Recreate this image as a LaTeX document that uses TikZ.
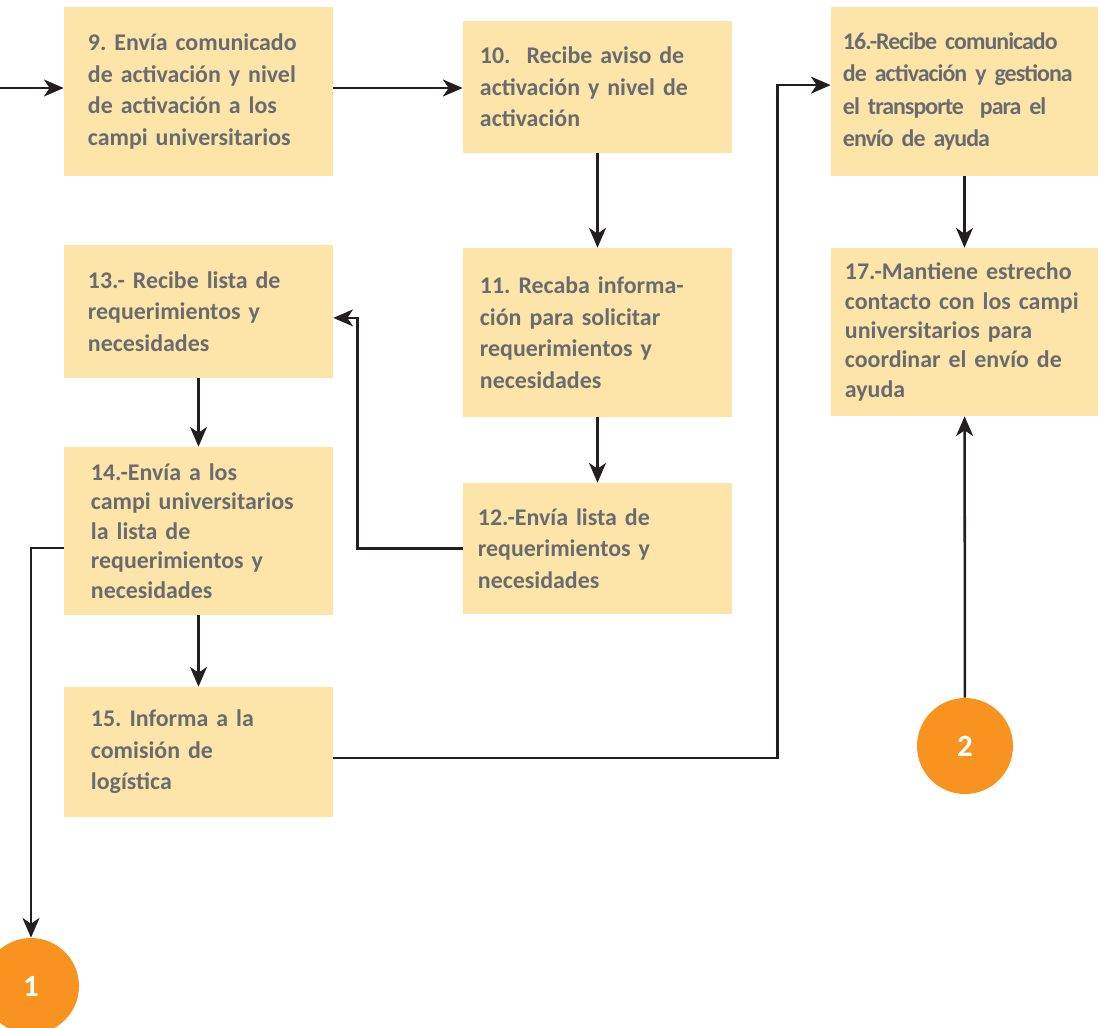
\documentclass[tikz,border=0pt]{standalone}
\usepackage{fontspec}
\setmainfont{Carlito}
\newfontfamily\condfont[LetterSpace=-4, WordSpace=0.75]{Carlito}
\usepackage{tikz}
\usetikzlibrary{arrows.meta, positioning}
\frenchspacing

\definecolor{boxfill}{HTML}{FDE5A9}
\definecolor{txtgray}{HTML}{6A6B6E}
\definecolor{circorange}{HTML}{F7931E}
\definecolor{linedark}{HTML}{231F20}

\tikzset{
  stepbox/.style={fill=boxfill, text=txtgray, align=left, inner ysep=0pt,
    font=\fontsize{17}{22.4}\selectfont\bfseries,
    execute at begin node={\hyphenpenalty=10000\exhyphenpenalty=10000}},
  flow/.style={draw=linedark, line width=1.8pt, -{Stealth[length=14pt, width=12pt, inset=4pt]}},
  endmark/.style={circle, fill=circorange, text=white, minimum size=2.4cm, inner sep=0pt,
    font=\fontsize{22}{24}\selectfont\bfseries}
}

\begin{document}
\begin{tikzpicture}[x=0.025cm, y=-0.025cm]
			\useasboundingbox (0,0) rectangle (1098,1027);
			\clip (0,0) rectangle (1098,1027);
			
			% Steps, first column
			\node[stepbox, minimum width=6.725cm, minimum height=4.225cm, inner xsep=0.6cm, text width=5.525cm] (n9) at (198.5,91.5)
				{9. Envía comunicado\\de activación y nivel\\de activación a los\\campi universitarios};
			\node[stepbox, minimum width=6.725cm, minimum height=3.325cm, inner xsep=0.6cm, text width=5.525cm] (n13) at (198.5,311.5)
				{13.- Recibe lista de\\requerimientos y\\necesidades};
			\node[stepbox, minimum width=6.725cm, minimum height=4.2cm, inner xsep=0.675cm, text width=5.375cm,
				font=\fontsize{17}{20.9}\selectfont\bfseries] (n14) at (198.5,531)
				{14.-Envía a los\\campi universitarios\\la lista de\\requerimientos y\\necesidades};
			\node[stepbox, minimum width=6.725cm, minimum height=3.25cm, inner xsep=0.675cm, text width=5.375cm] (n15) at (198.5,752)
				{15. Informa a la\\comisión de\\logística};
			
			% Steps, second column
			\node[stepbox, minimum width=6.725cm, minimum height=3.3cm, inner xsep=0.425cm, text width=5.875cm] (n10) at (597.5,87)
				{10.\ \ Recibe aviso de\\activación y nivel de\\activación};
			\node[stepbox, minimum width=6.725cm, minimum height=4.225cm, inner xsep=0.425cm, text width=5.875cm] (n11) at (597.5,332.5)
				{11. Recaba informa-\\ción para solicitar\\requerimientos y\\necesidades};
			\node[stepbox, minimum width=6.725cm, minimum height=3.275cm, inner xsep=0.375cm, text width=5.975cm] (n12) at (597.5,548.5)
				{12.-Envía lista de\\requerimientos y\\necesidades};
			
			% Steps, third column
			\node[stepbox, minimum width=6.675cm, minimum height=4.225cm, inner xsep=0.3cm, text width=6.075cm,
				font=\fontsize{17}{23}\condfont\bfseries] (n16) at (964.5,91.5)
				{16.-Recibe comunicado\\de activación y gestiona\\el transporte\ \ para el\\envío de ayuda};
			\node[stepbox, minimum width=6.675cm, minimum height=4.2cm, inner xsep=0.35cm, text width=5.975cm,
				font=\fontsize{17}{20.9}\selectfont\bfseries] (n17) at (964.5,332)
				{17.-Mantiene estrecho\\contacto con los campi\\universitarios para\\coordinar el envío de\\ayuda};
			
			% Connectors to other pages
			\node[endmark] (c1) at (31,986) {1};
			\node[endmark] (c2) at (965,746) {2};
			
			% Arrows
			\coordinate (in9) at (0,88);
			\draw[flow] (in9) -- (in9 -| n9.west);
			\draw[flow] (in9 -| n9.east) -- (in9 -| n10.west);
			\draw[flow] (n10) -- (n11);
			\draw[flow] (n11) -- (n12);
			\draw[flow] (n12.west) -- ++(-105,0) |- ([yshift=-0.16cm]n13.east);
			\draw[flow] (n13) -- (n14);
			\draw[flow] (n14) -- (n15);
			\draw[flow] ([yshift=-0.425cm]n14.west) -| (c1);
			\draw[flow] ([yshift=-0.15cm]n15.east) -- ++(444,0) |- ([yshift=0.16cm]n16.west);
			\draw[flow] (n16) -- (n17);
			\draw[flow] (c2) -- (n17);
\end{tikzpicture}
\end{document}
